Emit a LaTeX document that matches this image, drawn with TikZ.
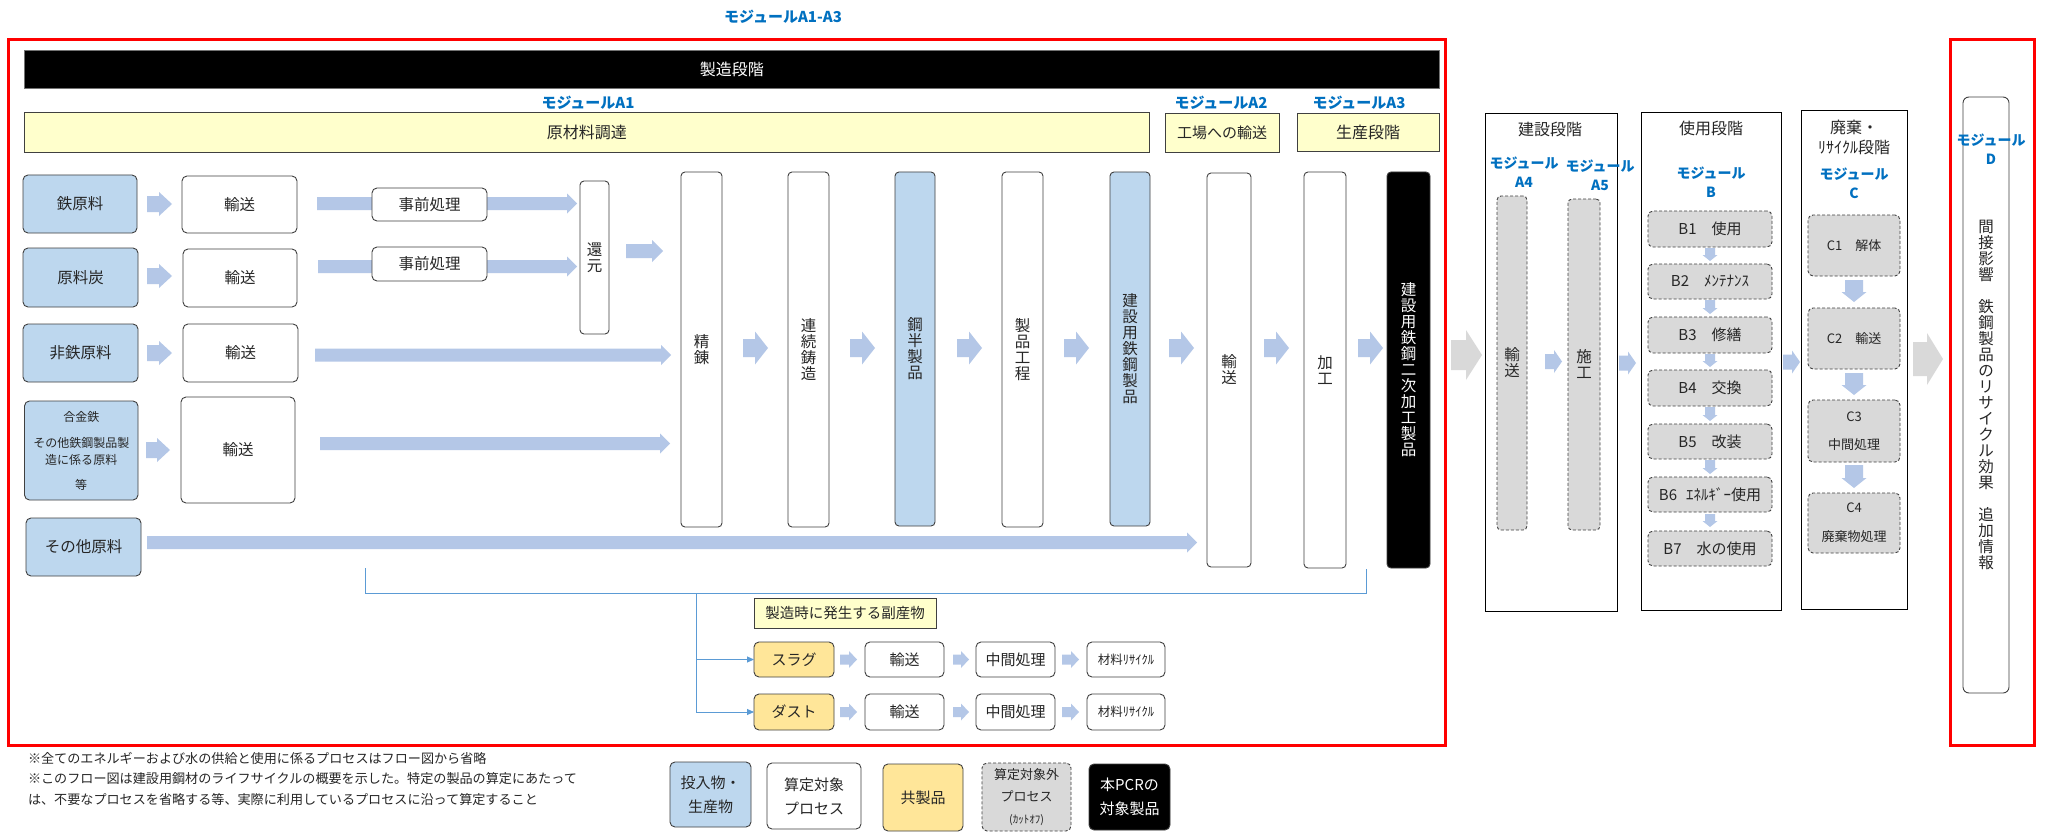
\documentclass[tikz,border=0pt]{standalone}
\usepackage{fontspec}
\setmainfont{Noto Sans CJK JP}
\usetikzlibrary{arrows.meta}
\definecolor{inblue}{HTML}{BDD7EE}
\definecolor{arrblue}{HTML}{B4C7E7}
\definecolor{hdryel}{HTML}{FFFFCC}
\definecolor{coyel}{HTML}{FFE699}
\definecolor{cutgray}{HTML}{D9D9D9}
\definecolor{modblue}{HTML}{0070C0}
\definecolor{linkblue}{HTML}{5B9BD5}
\definecolor{edgegray}{HTML}{404040}
% box from corners: name, style, x1, y1, x2, y2, text
\newcommand{\bx}[7]{\node[#2, minimum width={#5-(#3)}, minimum height={#6-(#4)}] (#1) at ({((#3)+(#5))/2},{((#4)+(#6))/2}) {#7};}
% right block arrow: colour, x1, x2, y, shaft half, head half, head length
\newcommand{\rarr}[7]{\fill[#1] (#2,#4-#5) -- (#3-#7,#4-#5) -- (#3-#7,#4-#6) -- (#3,#4) -- (#3-#7,#4+#6) -- (#3-#7,#4+#5) -- (#2,#4+#5) -- cycle;}
% down block arrow: colour, y1, y2, x, shaft half, head half, head length
\newcommand{\darr}[7]{\fill[#1] (#4-#5,#2) -- (#4-#5,#3-#7) -- (#4-#6,#3-#7) -- (#4,#3) -- (#4+#6,#3-#7) -- (#4+#5,#3-#7) -- (#4+#5,#2) -- cycle;}
\tikzset{
  base/.style={inner sep=0pt, outer sep=0pt, align=center, text=black!85, font=\fontsize{15.5}{19}\selectfont},
  proc/.style={base, draw=edgegray, line width=0.9pt, rounded corners=5pt, fill=white},
  inbox/.style={proc, fill=inblue},
  coprod/.style={proc, fill=coyel},
  cutoff/.style={base, draw=edgegray, line width=0.9pt, dash pattern=on 3pt off 2pt, rounded corners=5pt, fill=cutgray},
  target/.style={proc, fill=black, text=white},
  hdr/.style={base, draw=edgegray, line width=0.9pt, fill=hdryel},
  stage/.style={base, draw=black, line width=1pt},
  col/.style={proc, rounded corners=4pt, font=\fontsize{15.5}{16}\selectfont},
  modlbl/.style={inner sep=0pt, align=center, text=modblue, font=\fontsize{15}{16}\bfseries\selectfont},
  modlbls/.style={modlbl, font=\fontsize{14}{19}\bfseries\selectfont},
  redframe/.style={draw=red, line width=3pt},
  linkline/.style={draw=linkblue, line width=0.9pt},
  note/.style={base, anchor=west, font=\fontsize{13.1}{14}\selectfont},
  title/.style={base, font=\fontsize{16}{20}\selectfont},
}
\begin{document}
\begin{tikzpicture}[x=1pt,y=-1pt]
\useasboundingbox (0,0) rectangle (2046,832);
\fill[white] (0,0) rectangle (2046,832);

% ---------- frames and headers ----------
\node[modlbl] (lblA13) at (783,17) {モジュールA1-A3};
\draw[redframe] (8,40) rectangle (1445,745);
\draw[redframe] (1950,40) rectangle (2034.5,745);

\bx{mfg}{base, fill=black, draw=black!55, text=white, line width=0.9pt, font=\fontsize{16}{18}\selectfont}{24.5}{50}{1439}{88}{製造段階}
\node[modlbl] (lblA1) at (588,103) {モジュールA1};
\node[modlbl] (lblA2) at (1221,103) {モジュールA2};
\node[modlbl] (lblA3) at (1359,103) {モジュールA3};
\bx{raw}{hdr, font=\fontsize{16}{18}\selectfont}{24.5}{112}{1149}{152}{原材料調達}
\bx{trp}{hdr, font=\fontsize{15}{18}\selectfont}{1165}{113}{1279}{152}{工場への輸送}
\bx{prodst}{hdr, font=\fontsize{16}{18}\selectfont}{1297}{113}{1439}{151}{生産段階}

% ---------- block arrows (under boxes) ----------
\rarr{arrblue}{317}{577}{203.5}{6.5}{10}{10}
\rarr{arrblue}{318}{577}{266.5}{6.5}{10}{10}
\rarr{arrblue}{315}{671}{355}{6.5}{10}{10}
\rarr{arrblue}{320}{670}{443.5}{6.5}{10}{10}
\rarr{arrblue}{147}{1197}{542.5}{6.5}{10}{10}
\rarr{arrblue}{147}{172}{204}{8}{12}{13}
\rarr{arrblue}{147}{172}{276}{8}{12}{13}
\rarr{arrblue}{147}{172}{353}{8}{12}{13}
\rarr{arrblue}{146}{170}{450}{8}{12}{13}
\rarr{arrblue}{626}{663}{251}{7}{11}{11}
\foreach \a in {743,850,957,1064,1169,1264,1358} {\rarr{arrblue}{\a}{\a+25}{348}{9}{16.5}{13}}

% ---------- raw material rows ----------
\bx{fe}{inbox}{23}{175}{137}{233}{鉄原料}
\bx{t1}{proc}{182}{176}{297}{233}{輸送}
\bx{pre1}{proc}{372}{188}{487}{221}{事前処理}
\bx{coal}{inbox}{23}{248}{138}{307}{原料炭}
\bx{t2}{proc}{183}{249}{297}{307}{輸送}
\bx{pre2}{proc}{372}{247}{487}{281}{事前処理}
\bx{reduc}{col}{580}{181}{609}{334}{還\\元}
\bx{nonfe}{inbox}{23}{324}{138}{382}{非鉄原料}
\bx{t3}{proc}{183}{324}{298}{382}{輸送}
\bx{alloy}{inbox, font=\fontsize{12}{17}\selectfont}{24.5}{401}{138}{500}{合金鉄\\[9pt]その他鉄鋼製品製\\造に係る原料\\[8pt]等}
\bx{t4}{proc}{181}{397}{295}{503}{輸送}
\bx{other}{inbox}{26}{518}{141}{576}{その他原料}

% ---------- process columns ----------
\bx{c1}{col}{681}{172}{722}{527}{精\\錬}
\bx{c2}{col}{788}{172}{829}{527}{連\\続\\鋳\\造}
\bx{c3}{col, fill=inblue}{895}{172}{935}{526}{鋼\\半\\製\\品}
\bx{c4}{col}{1002}{172}{1043}{527}{製\\品\\工\\程}
\bx{c5}{col, fill=inblue}{1110}{172}{1150}{526}{建\\設\\用\\鉄\\鋼\\製\\品}
\bx{c6}{col}{1207}{173}{1251}{567}{輸\\送}
\bx{c7}{col}{1304}{172}{1346}{568}{加\\工}
\bx{c8}{col, fill=black, text=white}{1387}{172}{1430}{568}{建\\設\\用\\鉄\\鋼\\二\\次\\加\\工\\製\\品}

% ---------- by-products ----------
\coordinate (brL) at (365,568);
\coordinate (brR) at (1366,569);
\coordinate (brJ) at (696,593);
\draw[linkline] (brL) -- ++(0,25) -| (brR);
\bx{bph}{hdr, font=\fontsize{14.5}{16}\selectfont}{754}{598}{936}{628}{製造時に発生する副産物}
\bx{slag}{coprod, font=\fontsize{15}{16}\selectfont}{754}{642}{834}{677}{スラグ}
\bx{st}{proc, font=\fontsize{15}{16}\selectfont}{865}{642}{944}{677}{輸送}
\bx{sm}{proc, font=\fontsize{15}{16}\selectfont}{976}{642}{1055}{677}{中間処理}
\bx{sr}{proc, font=\fontsize{12.5}{14}\selectfont}{1087}{642}{1165}{677}{材料ﾘｻｲｸﾙ}
\bx{dust}{coprod, font=\fontsize{15}{16}\selectfont}{754}{694}{834}{730}{ダスト}
\bx{dt}{proc, font=\fontsize{15}{16}\selectfont}{865}{694}{944}{730}{輸送}
\bx{dm}{proc, font=\fontsize{15}{16}\selectfont}{976}{694}{1055}{730}{中間処理}
\bx{dr}{proc, font=\fontsize{12.5}{14}\selectfont}{1087}{694}{1165}{730}{材料ﾘｻｲｸﾙ}
\rarr{arrblue}{840}{857}{659.5}{5}{8.5}{8}
\rarr{arrblue}{953}{969}{659.5}{5}{8.5}{8}
\rarr{arrblue}{1062}{1079}{659.5}{5}{8.5}{8}
\rarr{arrblue}{840}{857}{712}{5}{8.5}{8}
\rarr{arrblue}{953}{969}{712}{5}{8.5}{8}
\rarr{arrblue}{1062}{1079}{712}{5}{8.5}{8}
\draw[linkline, -{Triangle[length=7pt,width=6pt]}] (brJ) |- (slag.west);
\draw[linkline, -{Triangle[length=7pt,width=6pt]}] (brJ) |- (dust.west);

% ---------- notes ----------
\node[note] (n1) at (28,758) {※全てのエネルギーおよび水の供給と使用に係るプロセスはフロー図から省略};
\node[note] (n2) at (28,779) {※このフロー図は建設用鋼材のライフサイクルの概要を示した。特定の製品の算定にあたって};
\node[note] (n3) at (28,800) {は、不要なプロセスを省略する等、実際に利用しているプロセスに沿って算定すること};

% ---------- legend ----------
\bx{lg1}{inbox, font=\fontsize{15}{24}\selectfont}{670}{762}{751}{827}{投入物・\\生産物}
\bx{lg2}{proc, font=\fontsize{15}{24}\selectfont}{767}{763}{861}{829}{算定対象\\プロセス}
\bx{lg3}{coprod, font=\fontsize{15}{24}\selectfont}{883}{764}{963}{831}{共製品}
\bx{lg4}{cutoff, font=\fontsize{13}{22}\selectfont}{982}{763}{1071}{831}{算定対象外\\プロセス\\{\fontsize{11}{12}\selectfont (ｶｯﾄｵﾌ)}}
\bx{lg5}{target, font=\fontsize{15}{24}\selectfont}{1089}{764}{1170}{830}{本PCRの\\対象製品}

% ---------- construction stage ----------
\rarr{cutgray}{1451}{1482}{355}{15}{25}{16}
\bx{cons}{stage}{1485}{114}{1617}{611}{}
\node[title] (consT) at (1550,129) {建設段階};
\node[modlbls] (lblA4) at (1524,172.5) {モジュール\\A4};
\node[modlbls] (lblA5) at (1600,175.5) {モジュール\\A5};
\bx{a4}{cutoff, rounded corners=4pt, font=\fontsize{15.5}{16}\selectfont}{1497}{196}{1527}{530}{輸\\送}
\bx{a5}{cutoff, rounded corners=4pt, font=\fontsize{15.5}{16}\selectfont}{1568}{199}{1600}{530}{施\\工}
\rarr{arrblue}{1545}{1562}{361.5}{7.5}{11.5}{8}
\rarr{arrblue}{1619}{1636}{363}{7.5}{11.5}{8}

% ---------- use stage ----------
\bx{use}{stage}{1641}{113}{1781}{610}{}
\node[title] (useT) at (1711,128) {使用段階};
\node[modlbls] (lblB) at (1711,182.5) {モジュール\\B};
\bx{b1}{cutoff, font=\fontsize{15}{16}\selectfont}{1648}{211}{1772}{247}{B1\hspace{1em}使用}
\bx{b2}{cutoff, font=\fontsize{15}{16}\selectfont}{1648}{264}{1772}{299}{B2\hspace{1em}ﾒﾝﾃﾅﾝｽ}
\bx{b3}{cutoff, font=\fontsize{15}{16}\selectfont}{1648}{317}{1772}{353}{B3\hspace{1em}修繕}
\bx{b4}{cutoff, font=\fontsize{15}{16}\selectfont}{1648}{370}{1772}{406}{B4\hspace{1em}交換}
\bx{b5}{cutoff, font=\fontsize{15}{16}\selectfont}{1648}{424}{1772}{459}{B5\hspace{1em}改装}
\bx{b6}{cutoff, font=\fontsize{15}{16}\selectfont}{1648}{477}{1772}{512}{B6\hspace{0.6em}ｴﾈﾙｷﾞｰ使用}
\bx{b7}{cutoff, font=\fontsize{15}{16}\selectfont}{1648}{531}{1772}{566}{B7\hspace{1em}水の使用}
\darr{arrblue}{248}{261}{1710}{5}{7.5}{6}
\darr{arrblue}{300}{314}{1710}{5}{7.5}{6}
\darr{arrblue}{354}{367}{1710}{5}{7.5}{6}
\darr{arrblue}{407}{421}{1710}{5}{7.5}{6}
\darr{arrblue}{460}{474}{1710}{5}{7.5}{6}
\darr{arrblue}{514}{527}{1710}{5}{7.5}{6}
\rarr{arrblue}{1783}{1800}{362}{7.5}{11.5}{8}

% ---------- end-of-life stage ----------
\bx{eol}{stage}{1801}{111}{1907}{609}{}
\node[title] (eolT) at (1854,137) {廃棄・\\ﾘｻｲｸﾙ段階};
\node[modlbls] (lblC) at (1854,183.5) {モジュール\\C};
\bx{cc1}{cutoff, font=\fontsize{13}{14}\selectfont}{1808}{215}{1900}{276}{C1\hspace{1em}解体}
\bx{cc2}{cutoff, font=\fontsize{13}{14}\selectfont}{1808}{308}{1900}{369}{C2\hspace{1em}輸送}
\bx{cc3}{cutoff, font=\fontsize{13}{28}\selectfont}{1808}{400}{1900}{462}{C3\\中間処理}
\bx{cc4}{cutoff, font=\fontsize{13}{29}\selectfont}{1808}{493}{1900}{553}{C4\\廃棄物処理}
\darr{arrblue}{280}{302}{1854}{9}{12.5}{10}
\darr{arrblue}{373}{395}{1854}{9}{12.5}{10}
\darr{arrblue}{465}{488}{1854}{9}{12.5}{10}

% ---------- module D ----------
\rarr{cutgray}{1913}{1943}{359}{17}{26}{16}
\bx{dcol}{proc, rounded corners=6pt, font=\fontsize{15.5}{16}\selectfont}{1963}{97}{2009}{693}{間\\接\\影\\響\\[16pt]鉄\\鋼\\製\\品\\の\\リ\\サ\\イ\\ク\\ル\\効\\果\\[16pt]追\\加\\情\\報}
\node[modlbls] (lblD) at (1991,149.5) {モジュール\\D};
\end{tikzpicture}
\end{document}
